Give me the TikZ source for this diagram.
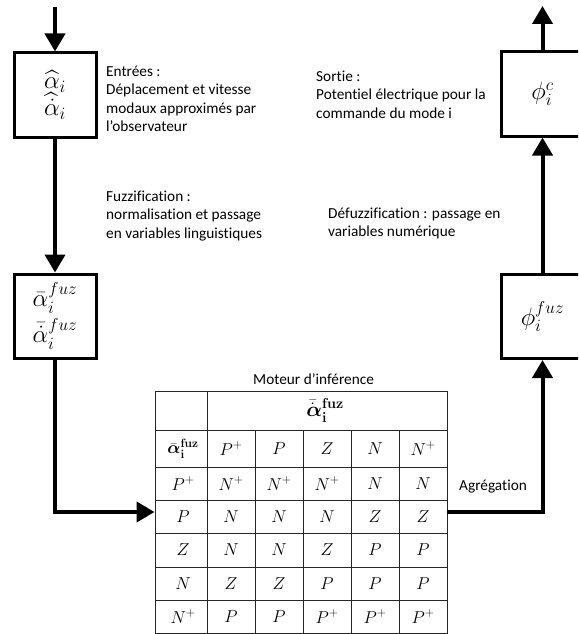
\documentclass[tikz,border=0pt]{standalone}
\usepackage{amsmath}
\usepackage[no-math]{fontspec}
\setmainfont{Carlito}[Ligatures=NoCommon]
\usetikzlibrary{arrows.meta}

\tikzset{
  bloc/.style={draw, line width=3pt, minimum width=82pt, minimum height=84pt, inner sep=0pt, align=center, font=\fontsize{25}{24}\selectfont},
  flux/.style={line width=4pt, -{Triangle[width=20pt,length=18pt]}},
  txt/.style={anchor=base west, inner sep=0pt, align=left, font=\fontsize{15.3}{18.5}\selectfont},
  grille/.style={draw=black!85, line width=0.9pt},
  case/.style={inner sep=0pt, font=\fontsize{18}{18}\selectfont}
}

\begin{document}
\begin{tikzpicture}[x=1pt, y=-1pt]
\useasboundingbox (0,0) rectangle (578,634);
\clip (0,0) rectangle (578,634);

\node[bloc] (entree) at (55,95) {$\widehat{\alpha}_i$\\[-1pt]$\widehat{\dot{\alpha}}_i$};
\node[bloc] (fuzz) at (55,316) {$\bar{\alpha}_i^{fuz}$\\[4pt]$\bar{\dot{\alpha}}_i^{fuz}$};
\node[bloc] (phic) at (542.5,94) {$\phi_i^c$};
\node[bloc] (phifuz) at (542.5,316.5) {$\phi_i^{fuz}$};

% le point d'ancrage est la ligne de base de la derniere ligne
\node[txt] (entrees) at (106,131.5) {Entrées :\\Déplacement et vitesse\\modaux approximés par\\l’observateur};
\node[txt] (sortie) at (316,118) {Sortie :\\Potentiel électrique pour la\\commande du mode i};
\node[txt] (fuzzif) at (106,238) {Fuzzification :\\normalisation et passage\\en variables linguistiques};
\node[txt] (defuzz) at (328,236.5) {Défuzzification : passage en\\variables numérique};
\node[txt] (moteur) at (253,384) {Moteur d’inférence};
\node[txt] (agreg) at (459,490) {Agrégation};

% table d'inference
\node[grille, minimum width=292pt, minimum height=242pt, inner sep=0pt] (tab) at (301,512) {};
\foreach \y in {430,467,500,533,567,600}
  \draw[grille] (155,\y) -- (447,\y);
\draw[grille] (207,391) -- (207,633);
\foreach \x in {255,303,351,399}
  \draw[grille] (\x,430) -- (\x,633);

\node[case, font=\fontsize{20}{20}\selectfont] (entete) at (325,410.5) {$\bar{\dot{\boldsymbol{\alpha}}}_{\mathbf{i}}^{\mathbf{fuz}}$};
\foreach \y/\ligne [count=\r] in {448.5/{\bar{\boldsymbol{\alpha}}_{\mathbf{i}}^{\mathbf{fuz}},P^+,P,Z,N,N^+},
    483.5/{P^+,N^+,N^+,N^+,N,N}, 516.5/{P,N,N,N,Z,Z}, 550/{Z,N,N,Z,P,P},
    583.5/{N,Z,Z,P,P,P}, 616.5/{N^+,P,P,P^+,P^+,P^+}}
  \foreach \v [count=\k] in \ligne
    \node[case] (c-\r-\k) at (135+48*\k,\y) {$\v$};

\coordinate (haut) at (55,7);
\coordinate (fin) at (542.5,6);

\draw[flux] (haut) -- (entree.north);
\draw[flux] (entree) -- (fuzz);
\draw[flux] (fuzz.south) |- (tab.west);
\draw[flux] (tab.east) -| (phifuz.south);
\draw[flux] (phifuz) -- (phic);
\draw[flux] (phic.north) -- (fin);

\end{tikzpicture}
\end{document}
